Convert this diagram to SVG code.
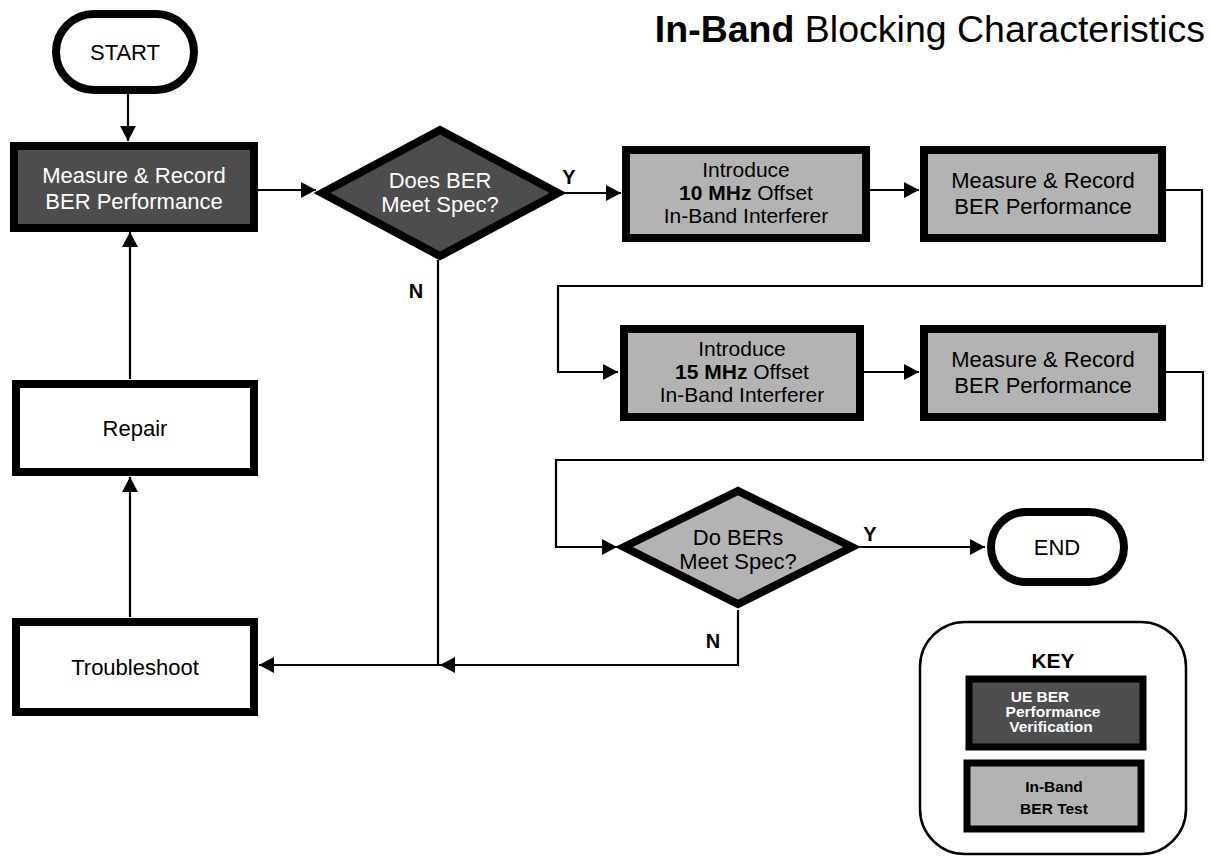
<svg xmlns="http://www.w3.org/2000/svg" width="1212" height="860" viewBox="0 0 1212 860">
<style>
text{font-family:"Liberation Sans",Arial,sans-serif;text-anchor:middle}
.t{font-size:22px;fill:#000}
.t3{font-size:21px;fill:#000}
.tw{font-size:22px;fill:#fff}
.lbl{font-size:20px;font-weight:bold}
.dark{fill:#4d4d4d;stroke:#000;stroke-width:8}
.light{fill:#b3b3b3;stroke:#000;stroke-width:8}
.white{fill:#fff;stroke:#000;stroke-width:8}
.conn{fill:none;stroke:#000;stroke-width:2.2}
.kt{font-size:15.5px;font-weight:bold}
</style>
<defs>
<marker id="arr" markerUnits="userSpaceOnUse" markerWidth="16" markerHeight="18" refX="15" refY="8" orient="auto">
<path d="M0,0 L15,8 L0,16 z" fill="#000"/>
</marker>
</defs>
<rect width="1212" height="860" fill="#fff"/>
<text x="1205" y="42" style="text-anchor:end;font-size:37.5px"><tspan font-weight="bold">In-Band</tspan> Blocking Characteristics</text>

<g id="connectors">
<path class="conn" d="M128,94 L128,141" marker-end="url(#arr)"/>
<path class="conn" d="M258,190 L316,190" marker-end="url(#arr)"/>
<path class="conn" d="M563,193 L621,193" marker-end="url(#arr)"/>
<path class="conn" d="M870,190 L919,190" marker-end="url(#arr)"/>
<path class="conn" d="M1166,190 L1202,190 L1202,286 L558,286 L558,372 L618,372" marker-end="url(#arr)"/>
<path class="conn" d="M864,372 L919,372" marker-end="url(#arr)"/>
<path class="conn" d="M1166,372 L1203,372 L1203,460 L556,460 L556,547 L617,547" marker-end="url(#arr)"/>
<path class="conn" d="M860,547 L985,547" marker-end="url(#arr)"/>
<path class="conn" d="M738,610 L738,665 L440,665" marker-end="url(#arr)"/>
<path class="conn" d="M440,665 L259,665" marker-end="url(#arr)"/>
<path class="conn" d="M438,260 L438,665"/>
<path class="conn" d="M130,617 L130,477" marker-end="url(#arr)"/>
<path class="conn" d="M130,379 L130,232" marker-end="url(#arr)"/>
<text class="lbl" x="569" y="184">Y</text>
<text class="lbl" x="416" y="298">N</text>
<text class="lbl" x="870" y="541">Y</text>
<text class="lbl" x="713" y="648">N</text>
</g>

<g id="start">
<rect class="white" x="56" y="14" width="138" height="76" rx="38"/>
<text class="t" x="125" y="60">START</text>
</g>
<g id="measure1">
<rect class="dark" x="14" y="146" width="240" height="82"/>
<text class="tw" x="134" y="183">Measure &amp; Record</text>
<text class="tw" x="134" y="209">BER Performance</text>
</g>
<g id="decision1">
<polygon class="dark" points="322,193 440,130 558,193 440,256"/>
<text class="tw" x="440" y="188">Does BER</text>
<text class="tw" x="440" y="212">Meet Spec?</text>
</g>
<g id="intro10">
<rect class="light" x="626" y="150" width="240" height="88"/>
<text class="t3" x="746" y="177">Introduce</text>
<text class="t3" x="746" y="200"><tspan font-weight="bold">10 MHz</tspan> Offset</text>
<text class="t3" x="746" y="223">In-Band Interferer</text>
</g>
<g id="measure2">
<rect class="light" x="924" y="150" width="238" height="88"/>
<text class="t" x="1043" y="188">Measure &amp; Record</text>
<text class="t" x="1043" y="214">BER Performance</text>
</g>
<g id="intro15">
<rect class="light" x="624" y="329" width="236" height="88"/>
<text class="t3" x="742" y="356">Introduce</text>
<text class="t3" x="742" y="379"><tspan font-weight="bold">15 MHz</tspan> Offset</text>
<text class="t3" x="742" y="402">In-Band Interferer</text>
</g>
<g id="measure3">
<rect class="light" x="924" y="329" width="238" height="88"/>
<text class="t" x="1043" y="367">Measure &amp; Record</text>
<text class="t" x="1043" y="393">BER Performance</text>
</g>
<g id="decision2">
<polygon class="light" points="624,547 738,491 852,547 738,604"/>
<text class="t" x="738" y="545">Do BERs</text>
<text class="t" x="738" y="569">Meet Spec?</text>
</g>
<g id="end">
<rect class="white" x="991" y="512" width="133" height="70" rx="35"/>
<text class="t" x="1057" y="555">END</text>
</g>
<g id="troubleshoot">
<rect class="white" x="16" y="622" width="238" height="90"/>
<text class="t" x="135" y="675">Troubleshoot</text>
</g>
<g id="repair">
<rect class="white" x="16" y="384" width="238" height="88"/>
<text class="t" x="135" y="436">Repair</text>
</g>
<g id="key">
<rect x="920" y="622" width="266" height="232" rx="45" fill="#fff" stroke="#000" stroke-width="2.5"/>
<text x="1053" y="668" style="font-size:21px;font-weight:bold">KEY</text>
<rect x="969" y="679" width="174" height="68" fill="#4d4d4d" stroke="#000" stroke-width="7"/>
<text class="kt" x="1040" y="702" fill="#fff">UE BER</text>
<text class="kt" x="1053" y="717" fill="#fff">Performance</text>
<text class="kt" x="1051" y="732" fill="#fff">Verification</text>
<rect x="967" y="763" width="174" height="66" fill="#b3b3b3" stroke="#000" stroke-width="7"/>
<text class="kt" x="1054" y="792">In-Band</text>
<text class="kt" x="1054" y="814">BER Test</text>
</g>
</svg>
